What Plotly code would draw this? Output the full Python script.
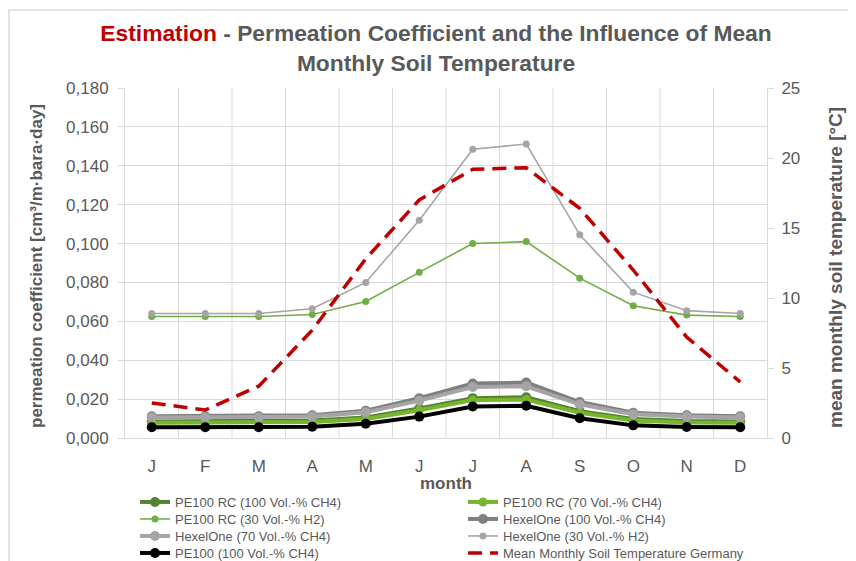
import plotly.graph_objects as go

months = ["J", "F", "M", "A", "M", "J", "J", "A", "S", "O", "N", "D"]
x_idx = list(range(12))

pe100rc_100ch4 = [0.0085, 0.0085, 0.0085, 0.009, 0.0105, 0.0152, 0.0205, 0.021, 0.0138, 0.0098, 0.0088, 0.0085]
pe100rc_70ch4 = [0.0078, 0.0078, 0.0078, 0.0082, 0.0098, 0.0143, 0.0195, 0.0198, 0.0130, 0.0090, 0.0080, 0.0078]
pe100rc_30h2 = [0.0625, 0.0625, 0.0625, 0.0635, 0.0702, 0.0852, 0.1000, 0.1010, 0.0822, 0.0680, 0.0632, 0.0625]
hexel_100ch4 = [0.0112, 0.0112, 0.0112, 0.0117, 0.0140, 0.0205, 0.0280, 0.0285, 0.0185, 0.0130, 0.0117, 0.0112]
hexel_70ch4 = [0.0105, 0.0105, 0.0105, 0.0110, 0.0132, 0.0192, 0.0262, 0.0266, 0.0173, 0.0122, 0.0110, 0.0105]
hexel_30h2 = [0.0640, 0.0640, 0.0640, 0.0665, 0.0800, 0.1120, 0.1485, 0.1512, 0.1045, 0.0750, 0.0655, 0.0640]
pe100_100ch4 = [0.0055, 0.0055, 0.0055, 0.0058, 0.0073, 0.0110, 0.0162, 0.0166, 0.0102, 0.0065, 0.0057, 0.0055]
soil_temp = [2.5, 2.0, 3.7, 7.7, 12.8, 17.0, 19.2, 19.3, 16.4, 12.0, 7.2, 4.0]

names = [
    "PE100 RC (100 Vol.-% CH4)",
    "PE100 RC (70 Vol.-% CH4)",
    "PE100 RC (30 Vol.-% H2)",
    "HexelOne (100 Vol.-% CH4)",
    "HexelOne (70 Vol.-% CH4)",
    "HexelOne (30 Vol.-% H2)",
    "PE100 (100 Vol.-% CH4)",
]
series = [pe100rc_100ch4, pe100rc_70ch4, pe100rc_30h2, hexel_100ch4, hexel_70ch4, hexel_30h2, pe100_100ch4]
colors = ["#548235", "#78B52E", "#70AD47", "#7F7F7F", "#A5A5A5", "#A5A5A5", "#000000"]
widths = [4, 4, 1.6, 4, 4, 1.6, 4]
msizes = [10, 9, 7, 10, 10, 7, 10]

left_title = "permeation coefficient [cm³/m·bara·day]"
right_title = "mean monthly soil temperature [°C]"

W, H = 856, 561
L, T, PW, PH = 117, 80, 642, 350
grid = "#D9D9D9"
txt = "#595959"

legend_ids = ["legend"] + ["legend%d" % i for i in range(2, 9)]

fig = go.Figure()
for i, (name, vals, c, w, ms) in enumerate(zip(names, series, colors, widths, msizes)):
    fig.add_trace(go.Scatter(
        x=x_idx, y=vals, name=name, mode="lines+markers",
        line=dict(color=c, width=w), marker=dict(color=c, size=ms),
        legend=legend_ids[i],
    ))

fig.add_trace(go.Scatter(
    x=x_idx, y=soil_temp, name="Mean Monthly Soil Temperature Germany",
    mode="lines", line=dict(color="#C00000", width=3.5, dash="14px,8px"),
    yaxis="y2", legend=legend_ids[7],
))

# legend layout: two columns, four rows (one legend box per entry for exact placement)
col_x = [127, 455]
row_top = [479, 496, 513, 530]
legend_layouts = {}
for i, lid in enumerate(legend_ids):
    r, cidx = divmod(i, 2)
    legend_layouts[lid] = dict(
        xref="container", x=col_x[cidx] / W, xanchor="left",
        yref="container", y=1 - row_top[r] / H, yanchor="top",
        font=dict(size=13, color=txt), itemwidth=30,
        bgcolor="rgba(0,0,0,0)", borderwidth=0,
    )

fig.update_layout(
    width=W, height=H,
    margin=dict(l=L, r=W - L - PW, t=T, b=H - T - PH, autoexpand=False),
    paper_bgcolor="white", plot_bgcolor="white",
    separators=",.",
    font=dict(family="Liberation Sans, Arial, sans-serif", color=txt),
    title=dict(
        text="<span style='color:#C00000'>Estimation</span> - Permeation Coefficient and the Influence of Mean<br>Monthly Soil Temperature",
        x=0.50, xanchor="center", xref="container",
        y=1 - 33 / H, yanchor="top", yref="container",
        font=dict(family="Liberation Sans Narrow, Arial Narrow, sans-serif", size=22.8, color=txt, weight="bold"),
    ),
    xaxis=dict(
        tickmode="array", tickvals=x_idx, ticktext=months,
        range=[-0.5, 11.5],
        showgrid=False, showline=True, linecolor=grid, linewidth=1,
        ticks="", tickfont=dict(size=17, color=txt), ticklabelstandoff=13,
        zeroline=False,
    ),
    yaxis=dict(
        range=[0, 0.18], dtick=0.02, tickformat=".3f",
        showgrid=True, gridcolor=grid, gridwidth=1,
        showline=True, linecolor=grid, ticks="outside", ticklen=6, tickcolor=grid,
        tickfont=dict(size=17, color=txt), zeroline=False, ticklabelstandoff=6,
    ),
    yaxis2=dict(
        overlaying="y", side="right", range=[0, 25], dtick=5,
        showgrid=False, showline=True, linecolor=grid, ticks="outside", ticklen=6, tickcolor=grid,
        tickfont=dict(size=17, color=txt), zeroline=False, ticklabelstandoff=4,
    ),
    showlegend=True,
    **legend_layouts,
)

# axis titles as annotations
fig.add_annotation(text="<b>" + left_title + "</b>", xref="paper", yref="paper",
                   x=(28 - L) / PW, y=(T + PH - 258) / PH, textangle=-90, showarrow=False,
                   xanchor="center", yanchor="middle", font=dict(size=17, color=txt))
fig.add_annotation(text="<b>" + right_title + "</b>", xref="paper", yref="paper",
                   x=(827 - L) / PW, y=(T + PH - 260) / PH, textangle=-90, showarrow=False,
                   xanchor="center", yanchor="middle", font=dict(size=19, color=txt))
fig.add_annotation(text="<b>month</b>", xref="paper", yref="paper",
                   x=0.5, y=(T + PH - 475) / PH, showarrow=False,
                   xanchor="center", yanchor="middle", font=dict(size=17, color=txt))

# vertical gridlines at category boundaries
for b in range(1, 12):
    fig.add_shape(type="line", xref="x", yref="paper", x0=b - 0.5, x1=b - 0.5, y0=0, y1=1,
                  line=dict(color=grid, width=1), layer="below")

# chart outer border
fig.add_shape(type="rect", xref="paper", yref="paper",
              x0=(1 - L) / PW, x1=(W + 20 - L) / PW,
              y0=-(H + 20 - T - PH) / PH, y1=(PH + T - 2) / PH,
              line=dict(color="#D9D9D9", width=1.5), layer="below")

fig.write_html("out.html")
